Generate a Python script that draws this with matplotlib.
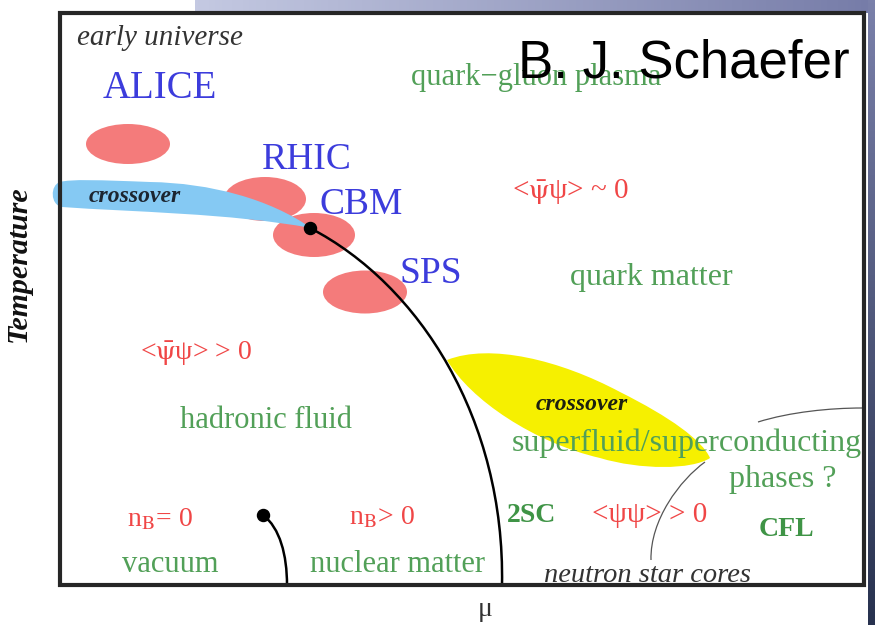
import matplotlib.pyplot as plt
import numpy as np
from matplotlib.patches import Ellipse, PathPatch, Rectangle
from matplotlib.path import Path
from matplotlib.colors import LinearSegmentedColormap

plt.rcParams['font.family'] = ['Liberation Serif', 'DejaVu Serif']
plt.rcParams['mathtext.fontset'] = 'stix'

# everything is placed in slide pixels, y pointing down
box = [60, 13, 864, 585]

# heavy-ion experiments (red blobs)
blob_x = [128, 265, 314, 365]
blob_y = [144, 199, 235, 292]
blob_w = [84, 82, 82, 84]
blob_h = [40, 44, 44, 43]

exp_names = ['ALICE', 'RHIC', 'CBM', 'SPS']
exp_x = [160, 307, 361, 431]
exp_y = [89, 160, 205, 274]
exp_size = [28, 27, 27, 27]

# phase names (green)
green_labels = ['quark\u2212gluon plasma', 'quark matter', 'hadronic fluid',
                'superfluid/superconducting', 'phases ?', 'vacuum', 'nuclear matter']
green_x = [536, 651, 266, 687, 783, 170, 397]
green_y = [78, 278, 420, 443, 480, 565, 565]
green_size = [22, 23, 22, 23, 23, 22, 22]

bold_labels = ['2SC', 'CFL']
bold_x = [532, 786]
bold_y = [515, 530]

# condensates / densities (red)
red_labels = [r'<$\mathrm{\bar{\psi}}$ψ> ~ 0', r'<$\mathrm{\bar{\psi}}$ψ> > 0', '<ψψ> > 0',
              r'n$_{\rm B}$= 0', r'n$_{\rm B}$> 0']
red_x = [571, 196, 650, 160, 382]
red_y = [192, 354, 515, 520, 518]
red_size = [21, 20, 21, 20, 20]

# boundaries: cubic bezier control points
crit_line = [(310, 228), (420, 285), (505, 420), (502, 585)]
nuc_line = [(263, 515), (280, 528), (287, 555), (287, 585)]
star_line = [(651, 560), (650, 520), (680, 480), (705, 462)]
cfl_line = [(758, 422), (790, 412), (830, 408), (862, 408)]
crit_pts = [(310, 228), (263, 515)]

band_pts = [(311, 228), (270, 199), (210, 183), (150, 182),
            (100, 180), (70, 179), (60, 182),
            (50, 185), (50, 205), (62, 207),
            (130, 212), (230, 213), (311, 228)]
yellow_pts = [(447, 360), (490, 343), (560, 360), (620, 392),
              (670, 417), (702, 440), (710, 458),
              (692, 470), (640, 470), (600, 458),
              (535, 443), (470, 400), (447, 360)]


def bez(pts):
    codes = [Path.MOVETO] + [Path.CURVE4] * (len(pts) - 1)
    return Path(pts, codes)


fig = plt.figure(figsize=(8.75, 6.25), dpi=100)
ax = fig.add_axes([0, 0, 1, 1])

# slide decoration
top = np.linspace(0, 1, 200)[None, :]
ax.imshow(top, extent=(195, 875, 13, 0), aspect='auto', zorder=0,
          cmap=LinearSegmentedColormap.from_list('t', ['#c4c9e2', '#767ca8']))
side = np.linspace(0, 1, 200)[:, None]
ax.imshow(side, extent=(868, 875, 625, 0), aspect='auto', zorder=0,
          cmap=LinearSegmentedColormap.from_list('s', ['#7a80aa', '#28324f']))

ax.add_patch(Rectangle((box[0], box[1]), box[2] - box[0], box[3] - box[1],
                       facecolor='white', edgecolor='none', zorder=0.5))

for x, y, w, h in zip(blob_x, blob_y, blob_w, blob_h):
    ax.add_patch(Ellipse((x, y), w, h, facecolor='#f47b7b', edgecolor='none', zorder=2))

ax.add_patch(PathPatch(bez(band_pts), facecolor='#85c9f3', edgecolor='none', zorder=3))
ax.add_patch(PathPatch(bez(yellow_pts), facecolor='#f6f000', edgecolor='none', zorder=2))

ax.add_patch(PathPatch(bez(crit_line), facecolor='none', edgecolor='black', lw=1.8, zorder=4))
ax.add_patch(PathPatch(bez(nuc_line), facecolor='none', edgecolor='black', lw=1.8, zorder=4))
ax.add_patch(PathPatch(bez(star_line), facecolor='none', edgecolor='#555555', lw=0.9, zorder=4))
ax.add_patch(PathPatch(bez(cfl_line), facecolor='none', edgecolor='#555555', lw=0.9, zorder=4))
ax.scatter([p[0] for p in crit_pts], [p[1] for p in crit_pts], s=75, color='black', zorder=5)

for t, x, y, s in zip(exp_names, exp_x, exp_y, exp_size):
    ax.text(x, y, t, color='#3c3cdc', fontsize=s, ha='center', va='center', zorder=6)
for t, x, y, s in zip(green_labels, green_x, green_y, green_size):
    ax.text(x, y, t, color='#52a058', fontsize=s, ha='center', va='center', zorder=6)
for t, x, y in zip(bold_labels, bold_x, bold_y):
    ax.text(x, y, t, color='#3f9446', fontsize=20, fontweight='bold', ha='center', va='center', zorder=6)
for t, x, y, s in zip(red_labels, red_x, red_y, red_size):
    ax.text(x, y, t, color='#f04646', fontsize=s, ha='center', va='center', zorder=6)

ax.text(135, 197, 'crossover', fontsize=17, style='italic', fontweight='bold',
        color='#1c2530', ha='center', va='center', zorder=6)
ax.text(582, 404, 'crossover', fontsize=17, style='italic', fontweight='bold',
        color='#1c2010', ha='center', va='center', zorder=6)
ax.text(77, 38, 'early universe', fontsize=21, style='italic', color='#333333',
        ha='left', va='center', zorder=6)
ax.text(647, 575, 'neutron star cores', fontsize=20.5, style='italic', color='#333333',
        ha='center', va='center', zorder=6)
ax.text(18, 264, 'Temperature', fontsize=21.5, style='italic', fontweight='bold',
        rotation=90, color='#111111', ha='center', va='center', zorder=6)
ax.text(485, 610, '\u03bc', fontsize=20, color='#333333', ha='center', va='center', zorder=6)
ax.text(518, 77, 'B. J. Schaefer', fontsize=38, family='Liberation Sans',
        color='black', ha='left', va='baseline', zorder=8)

ax.add_patch(Rectangle((box[0], box[1]), box[2] - box[0], box[3] - box[1],
                       fill=False, edgecolor='#262626', lw=3, zorder=7))

ax.set_xlim(0, 875)
ax.set_ylim(625, 0)
ax.axis('off')

plt.savefig('out.png', dpi=100)
